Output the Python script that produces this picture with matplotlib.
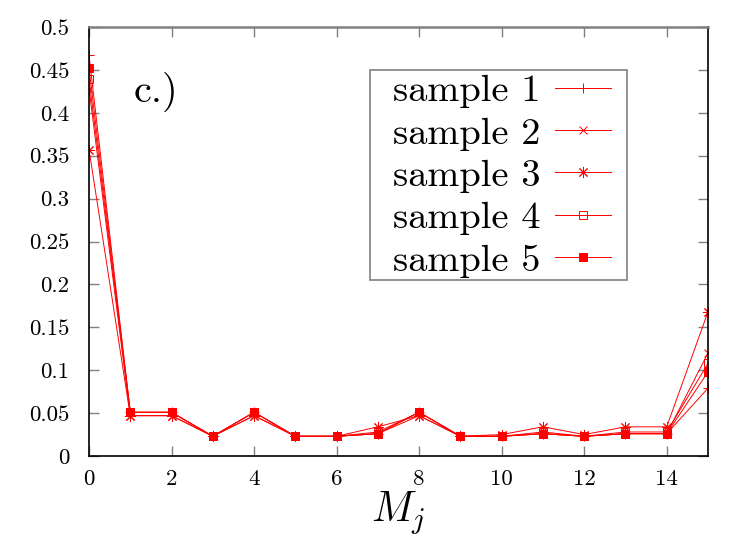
import matplotlib
matplotlib.use('Agg')
import matplotlib.pyplot as plt
from matplotlib.patches import Rectangle

plt.rcParams['font.family'] = 'cmr10'
plt.rcParams['mathtext.fontset'] = 'cm'
plt.rcParams['axes.formatter.use_mathtext'] = True

# data
mj = list(range(16))
sample1 = [0.467, 0.051, 0.051, 0.023, 0.051, 0.023, 0.023, 0.026, 0.051, 0.023, 0.023, 0.026, 0.023, 0.026, 0.026, 0.079]
sample2 = [0.428, 0.047, 0.047, 0.023, 0.047, 0.023, 0.023, 0.026, 0.047, 0.023, 0.023, 0.026, 0.023, 0.026, 0.026, 0.120]
sample3 = [0.357, 0.047, 0.047, 0.023, 0.047, 0.023, 0.023, 0.034, 0.047, 0.023, 0.025, 0.034, 0.025, 0.034, 0.034, 0.168]
sample4 = [0.439, 0.051, 0.051, 0.023, 0.051, 0.023, 0.023, 0.028, 0.051, 0.023, 0.023, 0.028, 0.023, 0.028, 0.028, 0.108]
sample5 = [0.452, 0.051, 0.051, 0.023, 0.051, 0.023, 0.023, 0.026, 0.051, 0.023, 0.023, 0.026, 0.023, 0.026, 0.026, 0.098]
labels = ['sample 1', 'sample 2', 'sample 3', 'sample 4', 'sample 5']

x_ticks = [0, 2, 4, 6, 8, 10, 12, 14]
y_ticks = [0, 0.05, 0.1, 0.15, 0.2, 0.25, 0.3, 0.35, 0.4, 0.45, 0.5]
y_tick_labels = ['0', '0.05', '0.1', '0.15', '0.2', '0.25', '0.3', '0.35', '0.4', '0.45', '0.5']

fig = plt.figure(figsize=(7.5, 5.38), dpi=100)
ax = fig.add_axes([0.1187, 0.1524, 0.8253, 0.7974])

red = '#ff0000'
styles = [
    dict(marker='+', markersize=7, markerfacecolor='none'),
    dict(marker='x', markersize=6, markerfacecolor='none'),
    dict(marker=(8, 2, 0), markersize=8, markerfacecolor='none'),
    dict(marker='s', markersize=6, markerfacecolor='none'),
    dict(marker='s', markersize=6, markerfacecolor=red),
]
for ys, lab, st in zip([sample1, sample2, sample3, sample4, sample5], labels, styles):
    ax.plot(mj, ys, color=red, linewidth=0.7, markeredgecolor=red,
            markeredgewidth=0.7, label=lab, **st)

ax.set_xlim(0, 15)
ax.set_ylim(0, 0.5)
ax.set_xticks(x_ticks)
ax.set_xticklabels([str(t) for t in x_ticks])
ax.set_yticks(y_ticks)
ax.set_yticklabels(y_tick_labels)
ax.tick_params(direction='in', length=7, width=1, color='#808080',
               top=True, right=True, labelsize=16.5)
ax.tick_params(axis='x', pad=10)
ax.tick_params(axis='y', pad=14)

for side in ['left', 'bottom', 'right']:
    ax.spines[side].set_color('black')
    ax.spines[side].set_linewidth(1.2)
ax.spines['top'].set_color('#808080')
ax.spines['top'].set_linewidth(1.8)

ax.set_xlabel(r'$M_j$', fontsize=30, labelpad=0)
ax.text(0.072, 0.826, 'c.)', transform=ax.transAxes, fontsize=29)

# legend box drawn separately (gnuplot style)
box = Rectangle((0.454, 0.410), 0.415, 0.490, transform=ax.transAxes,
                facecolor='white', edgecolor='#808080', linewidth=1.2, zorder=4)
ax.add_patch(box)
leg = ax.legend(loc='upper left', bbox_to_anchor=(0.491, 0.890), markerfirst=False,
                fontsize=27.7, frameon=False, handlelength=1.45,
                labelspacing=0.22, borderpad=0, handletextpad=0.39, borderaxespad=0)
leg.set_zorder(5)

fig.savefig('out.png', dpi=100)
